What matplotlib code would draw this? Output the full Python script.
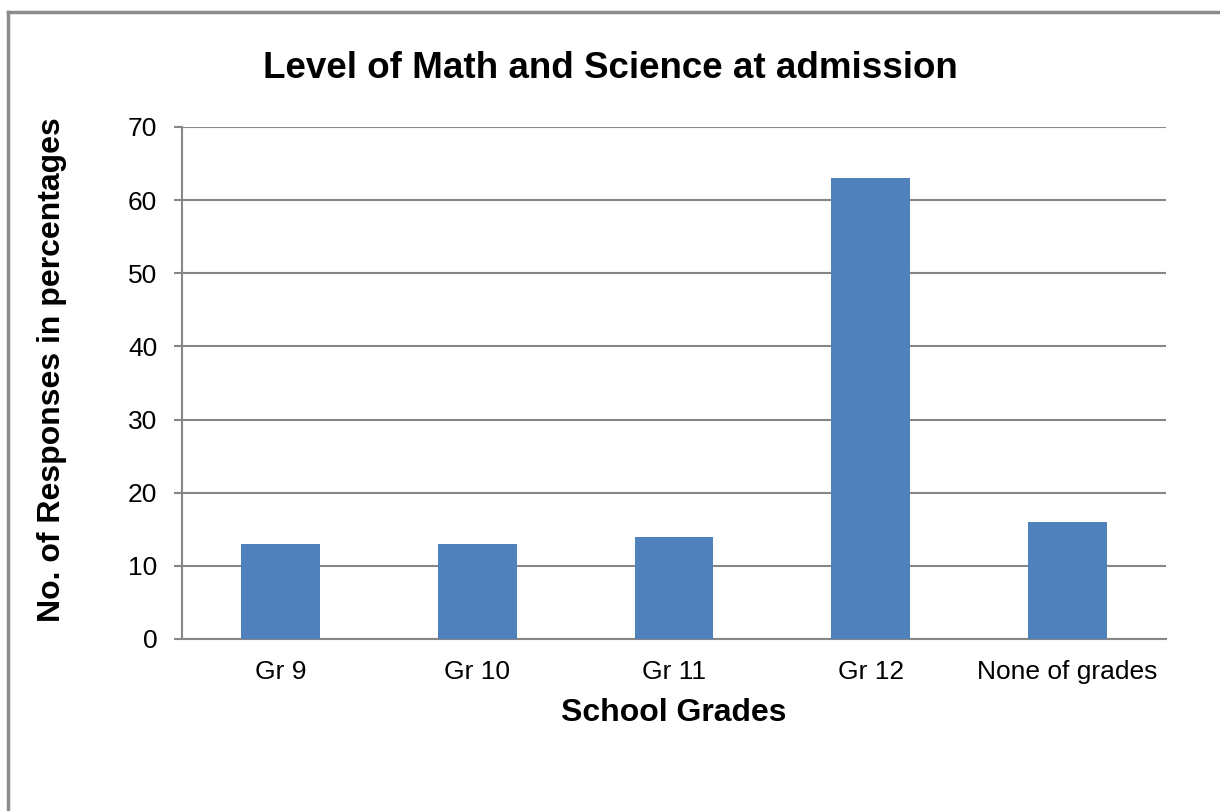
import matplotlib
matplotlib.use("Agg")
import matplotlib.pyplot as plt
from matplotlib.lines import Line2D

categories = ["Gr 9", "Gr 10", "Gr 11", "Gr 12", "None of grades"]
values = [13, 13, 14, 63, 16]
yticks = [0, 10, 20, 30, 40, 50, 60, 70]

plt.rcParams['font.family'] = ['Liberation Sans', 'DejaVu Sans']

W, H = 1220, 811
fig = plt.figure(figsize=(W / 100, H / 100), dpi=100)
ax = fig.add_axes([182 / W, 1 - 639 / H, 984 / W, 512 / H])

grid_c = "#868686"
x = list(range(len(categories)))
ax.bar(x, values, width=0.4, color="#4F81BD", zorder=3)
ax.set_xlim(-0.5, len(categories) - 0.5)
ax.set_ylim(0, 70)
ax.set_yticks(yticks)
ax.set_xticks(x)
ax.set_xticklabels(categories)
ax.yaxis.grid(True, color=grid_c, linewidth=1.5, zorder=0)
for s in ["top", "right"]:
    ax.spines[s].set_visible(False)
ax.spines["left"].set_color(grid_c)
ax.spines["left"].set_linewidth(1.5)
ax.spines["bottom"].set_color(grid_c)
ax.spines["bottom"].set_linewidth(1.5)
ax.tick_params(axis="y", length=5.8, width=1.5, color=grid_c, labelsize=19, pad=12)
ax.tick_params(axis="x", length=0, labelsize=19, pad=15)

fig.text(674 / W, 1 - 713 / H, "School Grades", fontsize=23, fontweight="bold",
         ha="center", va="center")
fig.text(52 / W, 1 - 370 / H, "No. of Responses in percentages", fontsize=23,
         fontweight="bold", ha="center", va="center", rotation=90)

fig.text(0.5, 1 - 68 / H, "Level of Math and Science at admission", fontsize=26.5,
         fontweight="bold", ha="center", va="center")

fig.add_artist(Line2D([8 / W, 1.0], [1 - 12 / H, 1 - 12 / H], color="#8c8c8c", linewidth=2.5,
                      transform=fig.transFigure))
fig.add_artist(Line2D([8 / W, 8 / W], [1 - 12 / H, 0], color="#8c8c8c", linewidth=2.5,
                      transform=fig.transFigure))

fig.savefig("out.png", dpi=100)
